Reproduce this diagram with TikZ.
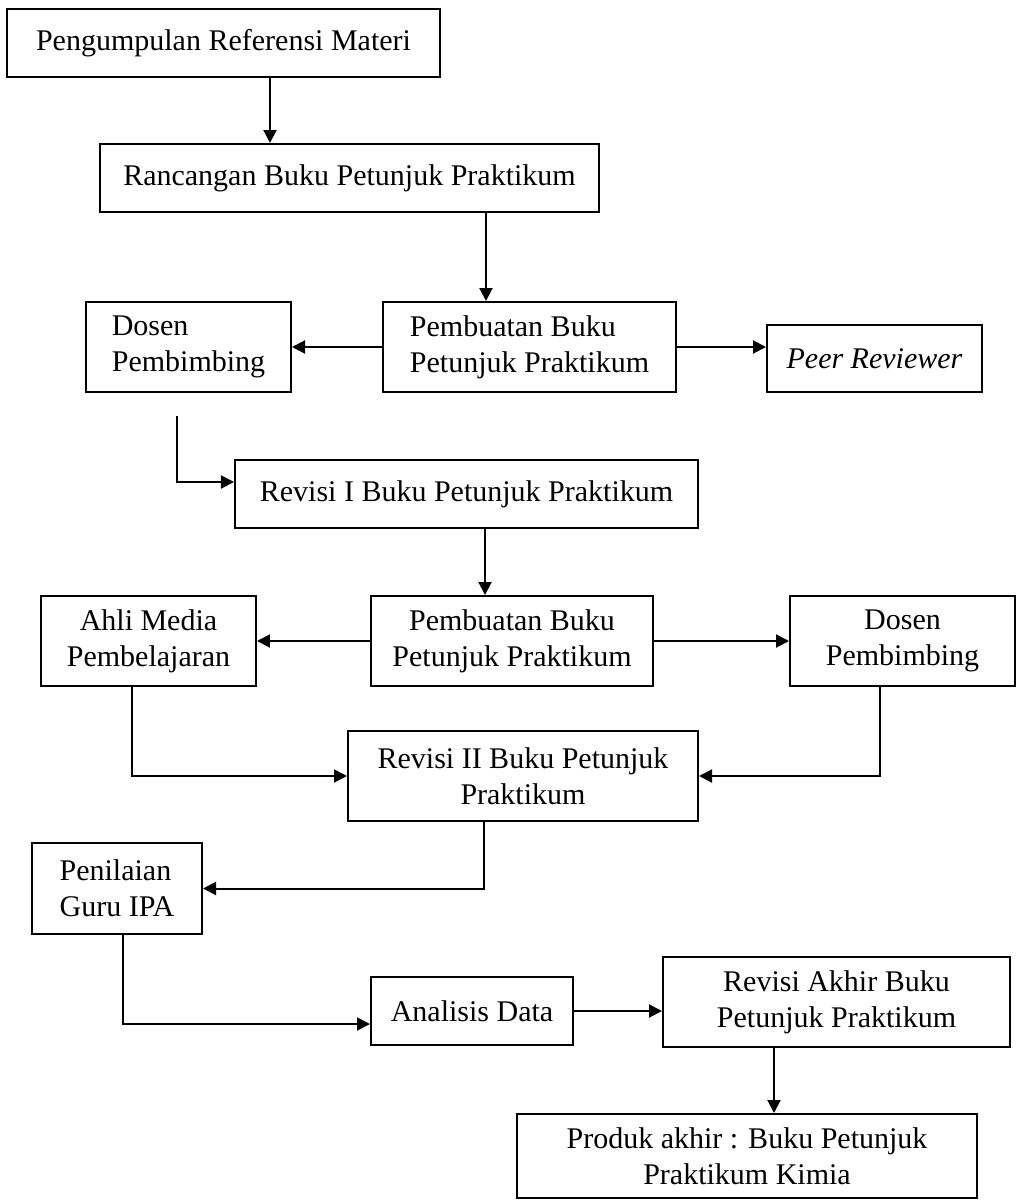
\documentclass[tikz,border=0pt]{standalone}
\usepackage{fontspec}
\setmainfont{Liberation Serif}
\usetikzlibrary{positioning,arrows.meta}

\begin{document}
\begin{tikzpicture}[
  x=0.4pt, y=-0.4pt,
  every node/.style={font=\fontsize{12pt}{14.3pt}\selectfont},
  tahap/.style ={draw, line width=0.8pt, inner sep=0pt, align=center},
  tahapL/.style={draw, line width=0.8pt, inner sep=0pt, align=left},
  arr/.style   ={-{Triangle[length=5.2pt,width=5.2pt]}, line width=0.8pt}
]
\useasboundingbox (0,0) rectangle (1015,1200);

%% --- Persiapan ----------------------------------------------
\node[tahap, minimum width=173.2pt, minimum height=27.2pt] (ref) at (223.5,43)
     {Pengumpulan Referensi Materi};
\node[tahap, minimum width=199.6pt, minimum height=27.2pt] (rancang) at (349.5,178)
     {Rancangan Buku Petunjuk Praktikum};

%% --- Pembuatan dan validasi I -------------------------------
\node[tahapL, minimum width=117.2pt, minimum height=36pt] (buatA) at (529.5,347)
     {Pembuatan Buku\\Petunjuk Praktikum};
\node[tahapL, minimum width=82pt, minimum height=36pt, left=36pt of buatA] (dosenA)
     {Dosen\\Pembimbing};
\node[tahap, minimum width=86pt, minimum height=26.8pt, right=35.6pt of buatA,
      yshift=-4.6pt] (peer)
     {\textit{Peer Reviewer}};
\node[tahap, minimum width=185.2pt, minimum height=27.2pt] (revA) at (466.5,494)
     {Revisi I Buku Petunjuk Praktikum};

%% --- Pembuatan dan validasi II ------------------------------
\node[tahap, minimum width=112.8pt, minimum height=36pt] (buatB) at (512,641)
     {Pembuatan Buku\\Petunjuk Praktikum};
\node[tahap, minimum width=86pt, minimum height=36pt, left=45.2pt of buatB] (ahli)
     {Ahli Media\\Pembelajaran};
\node[tahap, minimum width=90pt, minimum height=36pt, right=54pt of buatB] (dosenB)
     {Dosen\\Pembimbing};
\node[tahap, minimum width=140pt, minimum height=36pt] (revB) at (523,776)
     {Revisi II Buku Petunjuk\\Praktikum};

%% --- Uji coba dan produk akhir ------------------------------
\node[tahapL, minimum width=68pt, minimum height=36.4pt] (nilai) at (117,888.5)
     {Penilaian\\Guru IPA};
\node[tahap, minimum width=80.8pt, minimum height=27.2pt] (anls) at (472,1011)
     {Analisis Data};
\node[tahap, minimum width=138.8pt, minimum height=36pt] (revC) at (836.5,1002)
     {Revisi Akhir Buku\\Petunjuk Praktikum};
\node[tahap, minimum width=184pt, minimum height=33.6pt] (produk) at (747,1156)
     {Produk akhir : Buku Petunjuk\\Praktikum Kimia};

%% --- Panah ---------------------------------------------------
\draw[arr] ([xshift=18.6pt]ref.south) -- ([xshift=18.6pt]ref.south |- rancang.north);
\draw[arr] ([xshift=-17.4pt]buatA.north |- rancang.south) -- ([xshift=-17.4pt]buatA.north);
\draw[arr] (buatA.west) -- (dosenA.east);
\draw[arr] (buatA.east) -- (buatA.east -| peer.west);
% dosen -> revisi I (garis mulai di bawah kotak)
\draw[arr] ([xshift=-4.6pt, yshift=-9.2pt]dosenA.south) |- ([yshift=4.8pt]revA.west);
\draw[arr] ([xshift=7.4pt]revA.south) -- ([xshift=7.4pt]revA.south |- buatB.north);
\draw[arr] (buatB.west) -- (ahli.east);
\draw[arr] (buatB.east) -- (dosenB.west);
\draw[arr] ([xshift=-6.6pt]ahli.south) |- (revB.west);
\draw[arr] ([xshift=-9pt]dosenB.south) |- (revB.east);
\draw[arr] ([xshift=-15.6pt]revB.south) |- (nilai.east);
\draw[arr] ([xshift=2.4pt]nilai.south) |- ([yshift=-5.2pt]anls.west);
\draw[arr] (anls.east) -- (anls.east -| revC.west);
\draw[arr] ([xshift=-25pt]revC.south) -- ([xshift=-25pt]revC.south |- produk.north);

\end{tikzpicture}
\end{document}
